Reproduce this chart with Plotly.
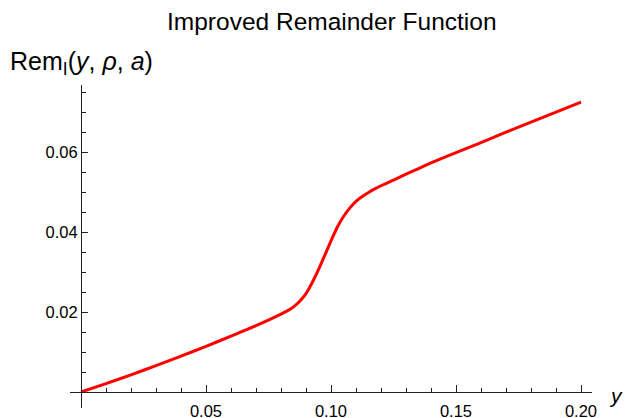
import plotly.graph_objects as go

# Data
y_vals = [0, 0.01, 0.02, 0.03, 0.04, 0.05, 0.06, 0.07, 0.08, 0.0825, 0.085, 0.0875, 0.09,
          0.0925, 0.095, 0.0975, 0.1, 0.1025, 0.105, 0.1075, 0.11, 0.1125, 0.115, 0.1175,
          0.12, 0.125, 0.13, 0.135, 0.14, 0.15, 0.16, 0.17, 0.18, 0.19, 0.2]
rem_vals = [0, 0.0021, 0.0043, 0.0066, 0.0090, 0.0114, 0.0140, 0.0166, 0.0195, 0.0203,
            0.0213, 0.0227, 0.0246, 0.0274, 0.0306, 0.0342, 0.0378, 0.0412, 0.0439,
            0.0460, 0.0477, 0.0489, 0.0499, 0.0508, 0.0516, 0.0530, 0.0545, 0.0559,
            0.0573, 0.0599, 0.0624, 0.0650, 0.0675, 0.0700, 0.0725]
x_tickvals = [0.05, 0.10, 0.15, 0.20]
x_ticktext = ["0.05", "0.10", "0.15", "0.20"]
y_tickvals = [0.02, 0.04, 0.06]
y_ticktext = ["0.02", "0.04", "0.06"]

title_text = "Improved Remainder Function"
ylabel_text = "Rem<sub>I</sub>(<i>y</i>, <i>ρ</i>, <i>a</i>)"
xlabel_text = "<i>y</i>"

x_range = [-0.0044, 0.2044]
y_range = [-0.0040, 0.0768]

FONT = "Liberation Sans, Arial, Helvetica, sans-serif"
AX = "#222222"

L, R, T, B = 70, 37, 85, 10
W, H = 629, 418
PW, PH = W - L - R, H - T - B


def px(x):
    return (x - L) / PW


def py(y):
    return (H - B - y) / PH


fig = go.Figure()
fig.add_trace(go.Scatter(
    x=y_vals, y=rem_vals, mode="lines",
    line=dict(color="#ff0000", width=3, shape="spline", smoothing=0.5),
    hoverinfo="skip", showlegend=False,
))

xpos = (0 - y_range[0]) / (y_range[1] - y_range[0])
ypos = (0 - x_range[0]) / (x_range[1] - x_range[0])

fig.update_layout(
    width=W, height=H,
    margin=dict(l=L, r=R, t=T, b=B, pad=0, autoexpand=False),
    paper_bgcolor="white", plot_bgcolor="white",
    font=dict(family=FONT, color="black", size=16),
    xaxis=dict(
        range=x_range, anchor="free", position=xpos, automargin=False,
        showgrid=False, zeroline=False,
        showline=True, linecolor=AX, linewidth=1,
        ticks="inside", ticklen=7, tickcolor=AX, tickwidth=1,
        tickvals=x_tickvals, ticktext=x_ticktext,
        tickfont=dict(size=16.5, family=FONT), ticklabelstandoff=4,
        minor=dict(tick0=0, dtick=0.01, ticks="inside", ticklen=4, tickcolor=AX, showgrid=False),
    ),
    yaxis=dict(
        range=y_range, anchor="free", position=ypos, automargin=False,
        showgrid=False, zeroline=False,
        showline=True, linecolor=AX, linewidth=1,
        ticks="inside", ticklen=6, tickcolor=AX, tickwidth=1,
        tickvals=y_tickvals, ticktext=y_ticktext,
        tickfont=dict(size=16.5, family=FONT),
        minor=dict(tick0=0, dtick=0.005, ticks="inside", ticklen=4, tickcolor=AX, showgrid=False),
    ),
    annotations=[
        dict(text=title_text, xref="paper", yref="paper",
             x=px(331.5), y=py(22), xanchor="center", yanchor="middle",
             showarrow=False, font=dict(size=24.5, family=FONT)),
        dict(text=ylabel_text, xref="paper", yref="paper",
             x=px(7.5), y=py(63.5), xanchor="left", yanchor="middle",
             showarrow=False, font=dict(size=25, family=FONT)),
        dict(text=xlabel_text, xref="paper", yref="paper",
             x=px(607), y=py(395.5), xanchor="left", yanchor="middle",
             showarrow=False, font=dict(size=21, family=FONT)),
    ],
)

fig.write_html("out.html", config={"displayModeBar": False},
               post_script="document.body.style.margin='0';")
